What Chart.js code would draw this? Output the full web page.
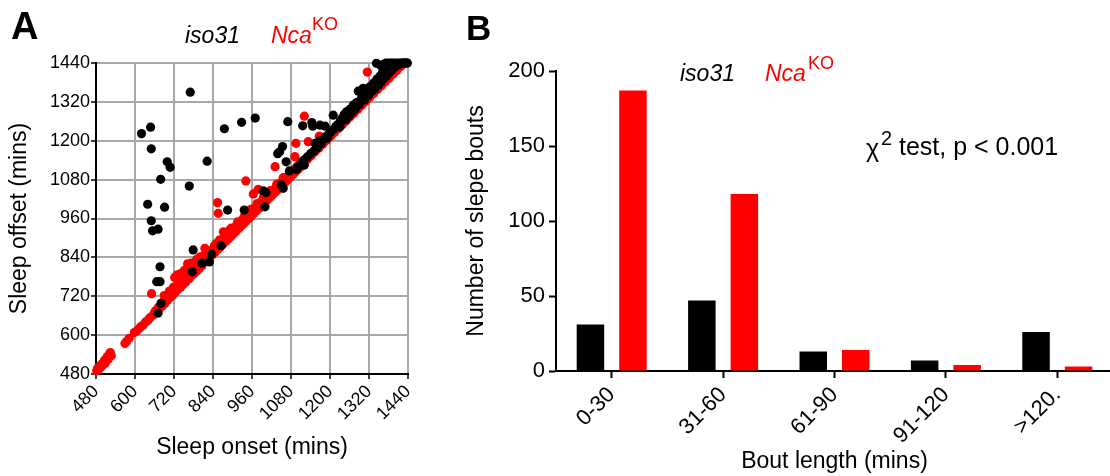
<!DOCTYPE html>
<html><head><meta charset="utf-8">
<script src="https://cdn.jsdelivr.net/npm/chart.js@4.4.1/dist/chart.umd.min.js"></script>
<style>
html,body{margin:0;padding:0;width:1110px;height:476px;overflow:hidden;background:#fff;}
#wrap{position:relative;width:1110px;height:476px;overflow:hidden;font-family:"Liberation Sans",Arial,sans-serif;color:#000;}
canvas{position:absolute;top:0;}
.t{position:absolute;white-space:nowrap;line-height:1;}
.i{font-style:italic;}
.r{color:#f00;}
</style></head>
<body><div id="wrap">
<canvas id="ca" width="440" height="476" style="left:0"></canvas>
<canvas id="cb" width="680" height="476" style="left:440px"></canvas>
<div class="t" style="left:11px;top:7px;font-size:38px;font-weight:bold">A</div>
<div class="t" style="left:466px;top:10px;font-size:35px;font-weight:bold">B</div>
<div class="t i" style="left:185px;top:24px;font-size:23px">iso31</div>
<div class="t i r" style="left:271px;top:24px;font-size:23px">Nca</div>
<div class="t r" style="left:312px;top:14.5px;font-size:18px">KO</div>
<div class="t i" style="left:680px;top:61.5px;font-size:23px">iso31</div>
<div class="t i r" style="left:765px;top:61.5px;font-size:23px">Nca</div>
<div class="t r" style="left:808px;top:54px;font-size:18px">KO</div>
<div class="t" style="left:866px;top:136px;font-size:25px">χ</div>
<div class="t" style="left:881px;top:128px;font-size:20px">2</div>
<div class="t" style="left:899px;top:134px;font-size:25px">test, p &lt; 0.001</div>
</div>
<script>
// ---------- Panel A: sleep onset vs offset (mins) ----------
const axisTicksA = [480, 600, 720, 840, 960, 1080, 1200, 1320, 1440];

const isoOnset = [620,648,650,699,708,679,767,822,875,928,970,770,639,691,650,654,671,677,667,677,680,671,779,776,806,829,836,865,885,936,
  1000,995,1003,1056,1050,1039,1045,1054,1065,1075,1097,1121,1070,1116,1144,1147,1169,1185,1210,
  1100,1108,1114,1120,1130,1140,1150,1154,1160,1168,1172,1180,1186,1191,1196,1202,1212,1218,1224,1231,1232,1238,1244,1248,1252,1258,1262,1268,1272,1278,1282,1287,1290,1296,1300,1302,1306,1312,1318,1322,1328,1334,1338,1343,1344,1350,1354,1358,1362,1366,1370,1374,1378,1382,1386,1390,1394,1398,1402,1406,1410,1414,1418,1422,1426,1430,1434,1438,1372,1380,1388,1356,1364];
const isoOffset = [1222,1242,1175,1135,1118,1081,1060,1137,1237,1257,1270,1350,1004,995,953,922,927,811,765,765,698,668,863,796,822,826,850,876,986,986,
  996,1045,1040,1053,1064,1160,1166,1182,1135,1107,1111,1125,1259,1246,1256,1245,1248,1245,1279,
  1118,1124,1136,1140,1150,1160,1168,1192,1178,1200,1190,1205,1212,1208,1220,1226,1236,1244,1250,1243,1262,1270,1282,1264,1290,1276,1298,1288,1310,1298,1318,1353,1312,1330,1340,1362,1326,1350,1340,1366,1352,1378,1360,1439,1390,1372,1400,1382,1412,1392,1420,1400,1430,1410,1436,1418,1440,1426,1440,1432,1440,1436,1440,1440,1440,1440,1440,1440,1440,1440,1440,1432,1436];

const ncaOnset = [482,485,488,491,494,497,500,503,506,509,512,515,518,521,524,527,
  569,574,582,598,604,612,618,624,632,640,646,
  651,656,660,664,668,672,676,680,684,688,692,696,700,704,708,712,716,720,724,728,732,736,740,744,748,752,756,760,764,766,770,774,778,782,786,790,794,798,802,806,810,
  722,730,740,752,762,772,790,800,
  690,706,718,734,746,758,780,796,812,828,844,860,876,896,916,936,956,976,996,1016,1036,1056,1076,
  814,818,822,826,830,815,834,838,842,846,850,851,854,858,862,866,870,872,874,878,882,886,890,892,894,898,902,906,910,913,914,918,922,926,930,934,938,942,946,950,954,958,962,966,970,974,978,982,986,990,994,998,
  1002,1006,1010,1014,1018,1022,1026,1030,1034,1038,1042,1046,1050,1054,1058,1062,1066,1070,1074,1078,1082,1086,1090,1094,1098,1102,1106,1110,1114,1118,1124,1130,1136,1142,1148,1154,1160,1166,1172,1178,1184,1190,1196,1202,1208,1214,1220,1226,1232,1238,1244,1250,1256,1262,1268,1274,1280,1286,1292,1298,1304,1310,1316,1322,1328,1334,1340,1346,1352,1358,1364,1370,1376,1382,1388,1394,1400,1406,1412,1418,1424,1430,1436,
  854,856,941,979,964,1031,1092,1095,1121,1133,1167,1315];
const ncaOffset = [490,498,494,503,500,510,506,516,522,514,528,534,526,540,546,536,
  574,580,590,608,612,620,626,630,640,646,654,
  728,662,670,676,674,686,684,694,690,704,698,712,708,722,716,728,724,738,732,750,742,758,748,770,756,774,764,782,816,774,792,784,800,790,808,798,818,806,828,814,834,
  778,786,790,800,820,822,834,842,
  722,736,748,768,776,790,812,826,846,860,876,894,906,930,950,966,988,1006,1028,1046,1066,1086,1104,
  826,840,832,850,838,868,856,848,866,856,872,883,864,880,872,890,880,919,898,888,906,896,914,925,904,922,912,930,920,941,938,928,946,936,956,944,962,952,970,960,978,968,986,976,994,984,1002,992,1010,1000,1018,1008,
  1024,1016,1034,1024,1040,1032,1048,1040,1056,1048,1064,1056,1072,1064,1080,1072,1088,1080,1096,1088,1104,1096,1112,1104,1120,1112,1128,1120,1134,1128,1140,1142,1150,1154,1162,1166,1174,1178,1186,1190,1198,1202,1210,1214,1222,1226,1234,1238,1246,1250,1258,1262,1270,1274,1282,1286,1294,1298,1306,1310,1318,1322,1330,1334,1342,1346,1354,1358,1366,1370,1378,1382,1390,1394,1402,1406,1414,1418,1426,1430,1436,1440,1440,
  1009,976,1076,1050,1036,1120,1151,1192,1276,1197,1214,1412];

// ---------- Panel B: bout length distribution ----------
const boutCats = ['0-30', '31-60', '61-90', '91-120', '>120.'];
const isoBouts = [31, 47, 13, 7, 26];
const ncaBouts = [187, 118, 14, 4, 3];
const countTicksB = [0, 50, 100, 150, 200];

Chart.defaults.font.family = '"Liberation Sans", Arial, sans-serif';
Chart.defaults.color = '#000';

const toPts = (xs, ys) => xs.map((x, i) => ({x: x, y: ys[i]}));
const plain = v => String(v);

new Chart(document.getElementById('ca'), {
  type: 'scatter',
  data: {datasets: [
    {label: 'iso31', data: toPts(isoOnset, isoOffset), backgroundColor: '#000', borderColor: '#000', pointRadius: 4.6, borderWidth: 0, clip: false},
    {label: 'NcaKO', data: toPts(ncaOnset, ncaOffset), backgroundColor: '#f00', borderColor: '#f00', pointRadius: 4.6, borderWidth: 0, clip: false}
  ]},
  options: {
    responsive: false, animation: false, events: [],
    layout: {padding: {left: 0, top: 63, right: 32, bottom: 0}},
    plugins: {legend: {display: false}, tooltip: {enabled: false}},
    scales: {
      x: {type: 'linear', min: 480, max: 1440,
        afterBuildTicks: s => { s.ticks = axisTicksA.map(v => ({value: v})); },
        afterFit: s => { s.height = 102; },
        grid: {color: '#a8a8a8', lineWidth: 2, tickColor: '#000', tickWidth: 1.5, tickLength: 5},
        border: {color: '#000', width: 2},
        ticks: {font: {size: 18}, color: '#000', minRotation: 45, maxRotation: 45, padding: 2, callback: plain},
        title: {display: true, text: 'Sleep onset (mins)', font: {size: 23}, color: '#000', padding: {top: 0, bottom: 15}}
      },
      y: {type: 'linear', min: 480, max: 1440,
        afterBuildTicks: s => { s.ticks = axisTicksA.map(v => ({value: v})); },
        afterFit: s => { s.width = 96; },
        grid: {color: '#a8a8a8', lineWidth: 2, tickColor: '#000', tickWidth: 1.5, tickLength: 5},
        border: {color: '#000', width: 2},
        ticks: {font: {size: 18}, color: '#000', padding: 1, callback: plain},
        title: {display: true, text: 'Sleep offset (mins)', font: {size: 23}, color: '#000', padding: {top: 6, bottom: 0}}
      }
    }
  }
});

new Chart(document.getElementById('cb'), {
  type: 'bar',
  data: {labels: boutCats, datasets: [
    {label: 'iso31', data: isoBouts, backgroundColor: '#000', categoryPercentage: 0.763, barPercentage: 0.647},
    {label: 'NcaKO', data: ncaBouts, backgroundColor: '#f00', categoryPercentage: 0.763, barPercentage: 0.647}
  ]},
  options: {
    responsive: false, animation: false, events: [],
    layout: {padding: {left: 0, top: 71, right: 7, bottom: 0}},
    plugins: {legend: {display: false}, tooltip: {enabled: false}},
    scales: {
      x: {
        afterFit: s => { s.height = 105; },
        grid: {offset: false, drawOnChartArea: false, tickColor: '#000', tickWidth: 2, tickLength: 7},
        border: {color: '#000', width: 2},
        ticks: {font: {size: 22}, color: '#000', minRotation: 45, maxRotation: 45, padding: 4},
        title: {display: true, text: 'Bout length (mins)', font: {size: 23}, color: '#000', padding: {top: 0, bottom: 1}}
      },
      y: {min: 0, max: 200,
        afterBuildTicks: s => { s.ticks = countTicksB.map(v => ({value: v})); },
        afterFit: s => { s.width = 116; },
        grid: {drawOnChartArea: false, tickColor: '#000', tickWidth: 2, tickLength: 7},
        border: {color: '#000', width: 2},
        ticks: {font: {size: 22}, color: '#000', padding: 4},
        title: {display: true, text: 'Number of slepe bouts', font: {size: 23}, color: '#000', padding: {top: 23, bottom: 0}}
      }
    }
  }
});
</script>
</body></html>
